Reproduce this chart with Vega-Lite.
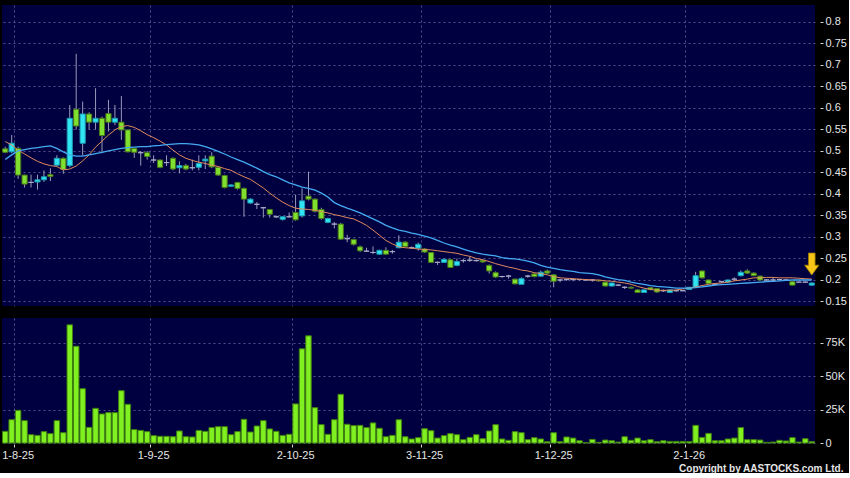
{
"$schema": "https://vega.github.io/schema/vega-lite/v6.json",
"background": "#000000",
"padding": {"left": 1, "top": 5, "right": 2, "bottom": 0},
"spacing": 12,
"bounds": "flush",
"config": {
  "view": {"fill": "#000040", "stroke": null},
  "font": "Liberation Sans",
  "axis": {"labelColor": "#e6e6e6", "labelFontSize": 11, "labelOverlap": false, "gridColor": "#50508e", "gridDash": [2, 3], "gridWidth": 1, "domain": false, "tickColor": "#d0d0d0", "tickSize": 3},
  "axisQuantitative": {"labelOverlap": false},
  "axisY": {"labelOverlap": false}
},
"data": {"values": [
{"d":"30-7-25","o":0.505,"h":0.51,"l":0.495,"c":0.497,"v":8700,"m1":0.522,"m2":0.480},
{"d":"31-7-25","o":0.498,"h":0.537,"l":0.495,"c":0.518,"v":17400,"m1":0.514,"m2":0.491},
{"d":"1-8-25","o":0.506,"h":0.51,"l":0.435,"c":0.444,"v":24400,"m1":0.502,"m2":0.500},
{"d":"4-8-25","o":0.444,"h":0.445,"l":0.415,"c":0.423,"v":16700,"m1":0.493,"m2":0.503},
{"d":"5-8-25","o":0.427,"h":0.445,"l":0.415,"c":0.427,"v":6200,"m1":0.484,"m2":0.506},
{"d":"6-8-25","o":0.428,"h":0.445,"l":0.41,"c":0.433,"v":5700,"m1":0.476,"m2":0.508},
{"d":"7-8-25","o":0.433,"h":0.455,"l":0.428,"c":0.44,"v":8500,"m1":0.470,"m2":0.510},
{"d":"8-8-25","o":0.445,"h":0.46,"l":0.43,"c":0.441,"v":7000,"m1":0.466,"m2":0.512},
{"d":"11-8-25","o":0.467,"h":0.49,"l":0.465,"c":0.483,"v":16700,"m1":0.464,"m2":0.506},
{"d":"12-8-25","o":0.483,"h":0.485,"l":0.447,"c":0.457,"v":7700,"m1":0.456,"m2":0.498},
{"d":"13-8-25","o":0.466,"h":0.607,"l":0.462,"c":0.576,"v":88300,"m1":0.458,"m2":0.491},
{"d":"14-8-25","o":0.597,"h":0.726,"l":0.55,"c":0.558,"v":72300,"m1":0.465,"m2":0.488},
{"d":"15-8-25","o":0.518,"h":0.615,"l":0.49,"c":0.586,"v":40600,"m1":0.477,"m2":0.488},
{"d":"18-8-25","o":0.586,"h":0.59,"l":0.55,"c":0.567,"v":11700,"m1":0.491,"m2":0.491},
{"d":"19-8-25","o":0.567,"h":0.646,"l":0.55,"c":0.576,"v":25900,"m1":0.509,"m2":0.494},
{"d":"20-8-25","o":0.576,"h":0.58,"l":0.495,"c":0.536,"v":21700,"m1":0.523,"m2":0.497},
{"d":"21-8-25","o":0.587,"h":0.619,"l":0.545,"c":0.567,"v":22700,"m1":0.537,"m2":0.500},
{"d":"22-8-25","o":0.567,"h":0.607,"l":0.56,"c":0.576,"v":22700,"m1":0.549,"m2":0.503},
{"d":"25-8-25","o":0.567,"h":0.628,"l":0.526,"c":0.549,"v":39100,"m1":0.557,"m2":0.506},
{"d":"26-8-25","o":0.549,"h":0.55,"l":0.497,"c":0.498,"v":28900,"m1":0.559,"m2":0.508},
{"d":"27-8-25","o":0.506,"h":0.507,"l":0.484,"c":0.497,"v":10000,"m1":0.555,"m2":0.509},
{"d":"28-8-25","o":0.496,"h":0.5,"l":0.466,"c":0.496,"v":9400,"m1":0.547,"m2":0.510},
{"d":"29-8-25","o":0.496,"h":0.5,"l":0.48,"c":0.487,"v":8500,"m1":0.538,"m2":0.510},
{"d":"1-9-25","o":0.479,"h":0.49,"l":0.472,"c":0.479,"v":5500,"m1":0.531,"m2":0.512},
{"d":"2-9-25","o":0.479,"h":0.48,"l":0.46,"c":0.462,"v":5000,"m1":0.523,"m2":0.513},
{"d":"3-9-25","o":0.473,"h":0.49,"l":0.465,"c":0.473,"v":5000,"m1":0.514,"m2":0.515},
{"d":"4-9-25","o":0.483,"h":0.485,"l":0.455,"c":0.458,"v":4700,"m1":0.502,"m2":0.516},
{"d":"5-9-25","o":0.461,"h":0.476,"l":0.448,"c":0.466,"v":9000,"m1":0.491,"m2":0.517},
{"d":"8-9-25","o":0.466,"h":0.47,"l":0.455,"c":0.458,"v":4700,"m1":0.483,"m2":0.517},
{"d":"9-9-25","o":0.461,"h":0.48,"l":0.455,"c":0.461,"v":4500,"m1":0.478,"m2":0.516},
{"d":"10-9-25","o":0.462,"h":0.49,"l":0.455,"c":0.471,"v":9400,"m1":0.474,"m2":0.514},
{"d":"11-9-25","o":0.477,"h":0.49,"l":0.458,"c":0.481,"v":8700,"m1":0.471,"m2":0.510},
{"d":"12-9-25","o":0.488,"h":0.497,"l":0.46,"c":0.463,"v":11500,"m1":0.467,"m2":0.505},
{"d":"15-9-25","o":0.462,"h":0.463,"l":0.442,"c":0.444,"v":12200,"m1":0.464,"m2":0.499},
{"d":"16-9-25","o":0.443,"h":0.445,"l":0.413,"c":0.415,"v":12200,"m1":0.459,"m2":0.493},
{"d":"17-9-25","o":0.418,"h":0.423,"l":0.416,"c":0.421,"v":6200,"m1":0.455,"m2":0.486},
{"d":"18-9-25","o":0.427,"h":0.428,"l":0.41,"c":0.413,"v":8500,"m1":0.447,"m2":0.480},
{"d":"19-9-25","o":0.413,"h":0.415,"l":0.347,"c":0.388,"v":17700,"m1":0.440,"m2":0.474},
{"d":"22-9-25","o":0.379,"h":0.39,"l":0.377,"c":0.388,"v":8200,"m1":0.434,"m2":0.467},
{"d":"23-9-25","o":0.376,"h":0.381,"l":0.365,"c":0.376,"v":12700,"m1":0.424,"m2":0.460},
{"d":"24-9-25","o":0.368,"h":0.37,"l":0.345,"c":0.368,"v":16700,"m1":0.414,"m2":0.452},
{"d":"25-9-25","o":0.364,"h":0.365,"l":0.345,"c":0.353,"v":10500,"m1":0.402,"m2":0.445},
{"d":"26-9-25","o":0.347,"h":0.35,"l":0.344,"c":0.347,"v":8700,"m1":0.391,"m2":0.440},
{"d":"29-9-25","o":0.341,"h":0.348,"l":0.338,"c":0.347,"v":5700,"m1":0.381,"m2":0.433},
{"d":"30-9-25","o":0.347,"h":0.357,"l":0.345,"c":0.347,"v":6500,"m1":0.373,"m2":0.426},
{"d":"2-10-25","o":0.357,"h":0.398,"l":0.338,"c":0.34,"v":29200,"m1":0.367,"m2":0.421},
{"d":"3-10-25","o":0.349,"h":0.413,"l":0.345,"c":0.384,"v":70400,"m1":0.365,"m2":0.416},
{"d":"6-10-25","o":0.395,"h":0.452,"l":0.385,"c":0.388,"v":80100,"m1":0.364,"m2":0.413},
{"d":"8-10-25","o":0.388,"h":0.39,"l":0.357,"c":0.36,"v":26400,"m1":0.362,"m2":0.409},
{"d":"9-10-25","o":0.364,"h":0.368,"l":0.34,"c":0.343,"v":13700,"m1":0.359,"m2":0.402},
{"d":"10-10-25","o":0.334,"h":0.345,"l":0.332,"c":0.343,"v":6500,"m1":0.356,"m2":0.393},
{"d":"13-10-25","o":0.33,"h":0.335,"l":0.32,"c":0.33,"v":17400,"m1":0.352,"m2":0.380},
{"d":"14-10-25","o":0.33,"h":0.333,"l":0.293,"c":0.295,"v":36400,"m1":0.349,"m2":0.373},
{"d":"15-10-25","o":0.296,"h":0.305,"l":0.288,"c":0.296,"v":14000,"m1":0.345,"m2":0.367},
{"d":"16-10-25","o":0.294,"h":0.296,"l":0.28,"c":0.283,"v":13000,"m1":0.342,"m2":0.362},
{"d":"17-10-25","o":0.277,"h":0.28,"l":0.265,"c":0.268,"v":13200,"m1":0.335,"m2":0.356},
{"d":"20-10-25","o":0.267,"h":0.275,"l":0.265,"c":0.267,"v":11500,"m1":0.327,"m2":0.349},
{"d":"21-10-25","o":0.264,"h":0.278,"l":0.26,"c":0.264,"v":15000,"m1":0.316,"m2":0.342},
{"d":"22-10-25","o":0.26,"h":0.27,"l":0.259,"c":0.269,"v":11000,"m1":0.304,"m2":0.335},
{"d":"23-10-25","o":0.269,"h":0.276,"l":0.259,"c":0.26,"v":4700,"m1":0.292,"m2":0.327},
{"d":"24-10-25","o":0.266,"h":0.27,"l":0.261,"c":0.266,"v":5700,"m1":0.284,"m2":0.321},
{"d":"27-10-25","o":0.275,"h":0.304,"l":0.274,"c":0.288,"v":17400,"m1":0.277,"m2":0.316},
{"d":"28-10-25","o":0.288,"h":0.29,"l":0.276,"c":0.278,"v":4700,"m1":0.275,"m2":0.313},
{"d":"30-10-25","o":0.275,"h":0.278,"l":0.272,"c":0.275,"v":3000,"m1":0.274,"m2":0.309},
{"d":"31-10-25","o":0.274,"h":0.287,"l":0.268,"c":0.283,"v":4000,"m1":0.272,"m2":0.306},
{"d":"3-11-25","o":0.272,"h":0.274,"l":0.263,"c":0.265,"v":10700,"m1":0.271,"m2":0.302},
{"d":"4-11-25","o":0.264,"h":0.265,"l":0.24,"c":0.241,"v":9200,"m1":0.270,"m2":0.298},
{"d":"5-11-25","o":0.241,"h":0.243,"l":0.235,"c":0.241,"v":3700,"m1":0.268,"m2":0.292},
{"d":"6-11-25","o":0.241,"h":0.25,"l":0.24,"c":0.248,"v":5500,"m1":0.266,"m2":0.286},
{"d":"7-11-25","o":0.247,"h":0.249,"l":0.228,"c":0.229,"v":7000,"m1":0.264,"m2":0.281},
{"d":"10-11-25","o":0.234,"h":0.25,"l":0.232,"c":0.243,"v":6200,"m1":0.262,"m2":0.277},
{"d":"11-11-25","o":0.245,"h":0.249,"l":0.24,"c":0.245,"v":2500,"m1":0.258,"m2":0.272},
{"d":"12-11-25","o":0.246,"h":0.255,"l":0.242,"c":0.246,"v":4200,"m1":0.255,"m2":0.267},
{"d":"13-11-25","o":0.245,"h":0.248,"l":0.243,"c":0.245,"v":6200,"m1":0.250,"m2":0.263},
{"d":"14-11-25","o":0.246,"h":0.248,"l":0.24,"c":0.242,"v":3200,"m1":0.247,"m2":0.260},
{"d":"17-11-25","o":0.234,"h":0.236,"l":0.215,"c":0.221,"v":9000,"m1":0.243,"m2":0.258},
{"d":"18-11-25","o":0.217,"h":0.22,"l":0.205,"c":0.207,"v":13700,"m1":0.238,"m2":0.256},
{"d":"19-11-25","o":0.208,"h":0.21,"l":0.205,"c":0.208,"v":3000,"m1":0.234,"m2":0.252},
{"d":"20-11-25","o":0.209,"h":0.212,"l":0.203,"c":0.209,"v":2000,"m1":0.230,"m2":0.250},
{"d":"21-11-25","o":0.202,"h":0.203,"l":0.19,"c":0.191,"v":8500,"m1":0.227,"m2":0.249},
{"d":"24-11-25","o":0.19,"h":0.206,"l":0.19,"c":0.203,"v":7700,"m1":0.223,"m2":0.247},
{"d":"25-11-25","o":0.209,"h":0.212,"l":0.205,"c":0.209,"v":2500,"m1":0.221,"m2":0.244},
{"d":"26-11-25","o":0.214,"h":0.216,"l":0.206,"c":0.208,"v":4000,"m1":0.217,"m2":0.240},
{"d":"27-11-25","o":0.209,"h":0.222,"l":0.207,"c":0.218,"v":3000,"m1":0.215,"m2":0.234},
{"d":"28-11-25","o":0.221,"h":0.224,"l":0.214,"c":0.216,"v":1000,"m1":0.212,"m2":0.230},
{"d":"1-12-25","o":0.212,"h":0.213,"l":0.183,"c":0.197,"v":7700,"m1":0.208,"m2":0.227},
{"d":"2-12-25","o":0.2,"h":0.203,"l":0.195,"c":0.2,"v":1000,"m1":0.205,"m2":0.224},
{"d":"3-12-25","o":0.201,"h":0.203,"l":0.198,"c":0.201,"v":4500,"m1":0.204,"m2":0.222},
{"d":"4-12-25","o":0.201,"h":0.204,"l":0.197,"c":0.201,"v":3700,"m1":0.203,"m2":0.220},
{"d":"5-12-25","o":0.201,"h":0.202,"l":0.199,"c":0.201,"v":1700,"m1":0.202,"m2":0.217},
{"d":"8-12-25","o":0.2,"h":0.201,"l":0.199,"c":0.2,"v":200,"m1":0.201,"m2":0.216},
{"d":"9-12-25","o":0.2,"h":0.202,"l":0.196,"c":0.2,"v":2700,"m1":0.200,"m2":0.215},
{"d":"10-12-25","o":0.199,"h":0.2,"l":0.196,"c":0.198,"v":500,"m1":0.200,"m2":0.212},
{"d":"11-12-25","o":0.195,"h":0.196,"l":0.185,"c":0.186,"v":2200,"m1":0.198,"m2":0.207},
{"d":"12-12-25","o":0.186,"h":0.194,"l":0.185,"c":0.193,"v":1700,"m1":0.197,"m2":0.204},
{"d":"15-12-25","o":0.188,"h":0.19,"l":0.186,"c":0.188,"v":700,"m1":0.195,"m2":0.201},
{"d":"16-12-25","o":0.183,"h":0.185,"l":0.179,"c":0.183,"v":4700,"m1":0.193,"m2":0.199},
{"d":"17-12-25","o":0.183,"h":0.185,"l":0.18,"c":0.181,"v":2000,"m1":0.190,"m2":0.195},
{"d":"18-12-25","o":0.177,"h":0.178,"l":0.17,"c":0.171,"v":3700,"m1":0.185,"m2":0.192},
{"d":"19-12-25","o":0.171,"h":0.178,"l":0.17,"c":0.177,"v":1700,"m1":0.181,"m2":0.190},
{"d":"22-12-25","o":0.182,"h":0.183,"l":0.176,"c":0.178,"v":2500,"m1":0.178,"m2":0.187},
{"d":"23-12-25","o":0.18,"h":0.181,"l":0.17,"c":0.172,"v":1000,"m1":0.176,"m2":0.185},
{"d":"24-12-25","o":0.175,"h":0.178,"l":0.172,"c":0.175,"v":1700,"m1":0.176,"m2":0.184},
{"d":"29-12-25","o":0.171,"h":0.178,"l":0.17,"c":0.177,"v":1200,"m1":0.176,"m2":0.183},
{"d":"30-12-25","o":0.175,"h":0.177,"l":0.173,"c":0.175,"v":1200,"m1":0.177,"m2":0.181},
{"d":"31-12-25","o":0.175,"h":0.176,"l":0.174,"c":0.175,"v":1200,"m1":0.179,"m2":0.181},
{"d":"2-1-26","o":0.178,"h":0.183,"l":0.177,"c":0.183,"v":1000,"m1":0.181,"m2":0.181},
{"d":"5-1-26","o":0.183,"h":0.219,"l":0.182,"c":0.21,"v":13200,"m1":0.184,"m2":0.182},
{"d":"6-1-26","o":0.221,"h":0.222,"l":0.203,"c":0.205,"v":4200,"m1":0.187,"m2":0.184},
{"d":"7-1-26","o":0.2,"h":0.201,"l":0.19,"c":0.192,"v":7200,"m1":0.190,"m2":0.186},
{"d":"8-1-26","o":0.19,"h":0.192,"l":0.188,"c":0.19,"v":1700,"m1":0.192,"m2":0.188},
{"d":"9-1-26","o":0.196,"h":0.198,"l":0.193,"c":0.196,"v":1700,"m1":0.193,"m2":0.189},
{"d":"12-1-26","o":0.195,"h":0.201,"l":0.194,"c":0.2,"v":3000,"m1":0.195,"m2":0.190},
{"d":"13-1-26","o":0.202,"h":0.206,"l":0.198,"c":0.202,"v":3700,"m1":0.198,"m2":0.191},
{"d":"14-1-26","o":0.21,"h":0.222,"l":0.208,"c":0.218,"v":11500,"m1":0.200,"m2":0.192},
{"d":"15-1-26","o":0.221,"h":0.225,"l":0.214,"c":0.216,"v":2500,"m1":0.202,"m2":0.193},
{"d":"16-1-26","o":0.216,"h":0.218,"l":0.209,"c":0.21,"v":2500,"m1":0.205,"m2":0.194},
{"d":"19-1-26","o":0.209,"h":0.21,"l":0.2,"c":0.2,"v":2200,"m1":0.205,"m2":0.195},
{"d":"20-1-26","o":0.2,"h":0.202,"l":0.199,"c":0.2,"v":500,"m1":0.206,"m2":0.196},
{"d":"21-1-26","o":0.2,"h":0.205,"l":0.197,"c":0.2,"v":700,"m1":0.206,"m2":0.197},
{"d":"22-1-26","o":0.201,"h":0.203,"l":0.2,"c":0.201,"v":2000,"m1":0.205,"m2":0.198},
{"d":"23-1-26","o":0.2,"h":0.202,"l":0.199,"c":0.2,"v":1500,"m1":0.205,"m2":0.199},
{"d":"26-1-26","o":0.196,"h":0.197,"l":0.188,"c":0.188,"v":4000,"m1":0.205,"m2":0.200},
{"d":"27-1-26","o":0.195,"h":0.196,"l":0.194,"c":0.195,"v":700,"m1":0.204,"m2":0.200},
{"d":"28-1-26","o":0.195,"h":0.196,"l":0.194,"c":0.195,"v":3200,"m1":0.203,"m2":0.200},
{"d":"29-1-26","o":0.188,"h":0.194,"l":0.187,"c":0.193,"v":1000,"m1":0.202,"m2":0.200,"arrow":0.237}
]},
"vconcat": [
  {
    "width": 813,
    "height": 301,
    "encoding": {
      "x": {"field": "d", "type": "ordinal", "sort": null, "title": null,
        "scale": {"type": "band", "paddingInner": 0, "paddingOuter": 0},
        "axis": {"values": ["1-8-25","1-9-25","2-10-25","3-11-25","1-12-25","2-1-26"], "bandPosition": 0, "labels": false, "ticks": false, "domain": false, "grid": true}}
    },
    "layer": [
      {
        "mark": {"type": "rule", "color": "#9a9aba", "strokeWidth": 1},
        "encoding": {
          "y": {"field": "l", "type": "quantitative", "title": null,
            "scale": {"domain": [0.1395, 0.8395], "nice": false, "zero": false},
            "axis": {"orient": "right", "values": [0.15,0.2,0.25,0.3,0.35,0.4,0.45,0.5,0.55,0.6,0.65,0.7,0.75,0.8], "format": ".2~f", "offset": 5, "labelPadding": 2, "labelOverlap": false, "grid": true}},
          "y2": {"field": "h"}
        }
      },
      {
        "mark": {"type": "bar", "width": {"band": 0.8}, "strokeWidth": 1},
        "encoding": {
          "y": {"field": "o", "type": "quantitative", "title": null, "scale": {"domain": [0.1395, 0.8395], "nice": false, "zero": false},
            "axis": {"orient": "right", "values": [0.15,0.2,0.25,0.3,0.35,0.4,0.45,0.5,0.55,0.6,0.65,0.7,0.75,0.8], "format": ".2~f", "offset": 5, "labelPadding": 2, "labelOverlap": false, "grid": true}},
          "y2": {"field": "c"},
          "fill": {"condition": [{"test": "datum.c > datum.o", "value": "#30e4f4"}, {"test": "datum.c < datum.o", "value": "#80e030"}], "value": "#a0a0c0"},
          "stroke": {"condition": [{"test": "datum.c > datum.o", "value": "#1c9cb0"}, {"test": "datum.c < datum.o", "value": "#4a7818"}], "value": "#a8a8c8"}
        }
      },
      {
        "mark": {"type": "line", "color": "#e08a5c", "strokeWidth": 1},
        "encoding": {"y": {"field": "m1", "type": "quantitative", "title": null, "scale": {"domain": [0.1395, 0.8395], "nice": false, "zero": false},
          "axis": {"orient": "right", "values": [0.15,0.2,0.25,0.3,0.35,0.4,0.45,0.5,0.55,0.6,0.65,0.7,0.75,0.8], "format": ".2~f", "offset": 5, "labelPadding": 2, "labelOverlap": false, "grid": true}}}
      },
      {
        "mark": {"type": "line", "color": "#44aaf2", "strokeWidth": 1.3},
        "encoding": {"y": {"field": "m2", "type": "quantitative", "title": null, "scale": {"domain": [0.1395, 0.8395], "nice": false, "zero": false},
          "axis": {"orient": "right", "values": [0.15,0.2,0.25,0.3,0.35,0.4,0.45,0.5,0.55,0.6,0.65,0.7,0.75,0.8], "format": ".2~f", "offset": 5, "labelPadding": 2, "labelOverlap": false, "grid": true}}}
      },
      {
        "transform": [{"filter": "datum.arrow != null"}],
        "mark": {"type": "point", "shape": "M-0.3,-1L0.3,-1L0.3,0.1L0.65,0.1L0,1L-0.65,0.1L-0.3,0.1Z", "filled": true, "size": 484, "fill": "#f5c518", "stroke": "#a07c00", "strokeWidth": 0.8, "opacity": 1},
        "encoding": {"y": {"field": "arrow", "type": "quantitative", "title": null, "scale": {"domain": [0.1395, 0.8395], "nice": false, "zero": false},
          "axis": {"orient": "right", "values": [0.15,0.2,0.25,0.3,0.35,0.4,0.45,0.5,0.55,0.6,0.65,0.7,0.75,0.8], "format": ".2~f", "offset": 5, "labelPadding": 2, "labelOverlap": false, "grid": true}}}
      }
    ]
  },
  {
    "width": 813,
    "height": 125,
    "mark": {"type": "bar", "width": {"band": 0.85}, "fill": "#80f020", "stroke": "#3f8010", "strokeWidth": 1},
    "encoding": {
      "x": {"field": "d", "type": "ordinal", "sort": null,
        "scale": {"type": "band", "paddingInner": 0, "paddingOuter": 0},
        "axis": {"values": ["1-8-25","1-9-25","2-10-25","3-11-25","1-12-25","2-1-26"], "bandPosition": 0, "labelAngle": 0, "labelPadding": 2, "offset": 1, "grid": true,
          "title": "Copyright by AASTOCKS.com Ltd.", "titleColor": "#e6e6e6", "titleFontSize": 10, "titleFontWeight": "bold", "titleAnchor": "end", "titleAlign": "right", "titleX": 841, "titlePadding": 3}},
      "y": {"field": "v", "type": "quantitative", "title": null,
        "scale": {"domain": [0, 93400], "nice": false},
        "axis": {"orient": "right", "values": [0, 25000, 50000, 75000], "labelExpr": "datum.value == 0 ? '0' : format(datum.value / 1000, 'd') + 'K'", "offset": 5, "labelPadding": 2, "grid": true}}
    }
  }
]
}
